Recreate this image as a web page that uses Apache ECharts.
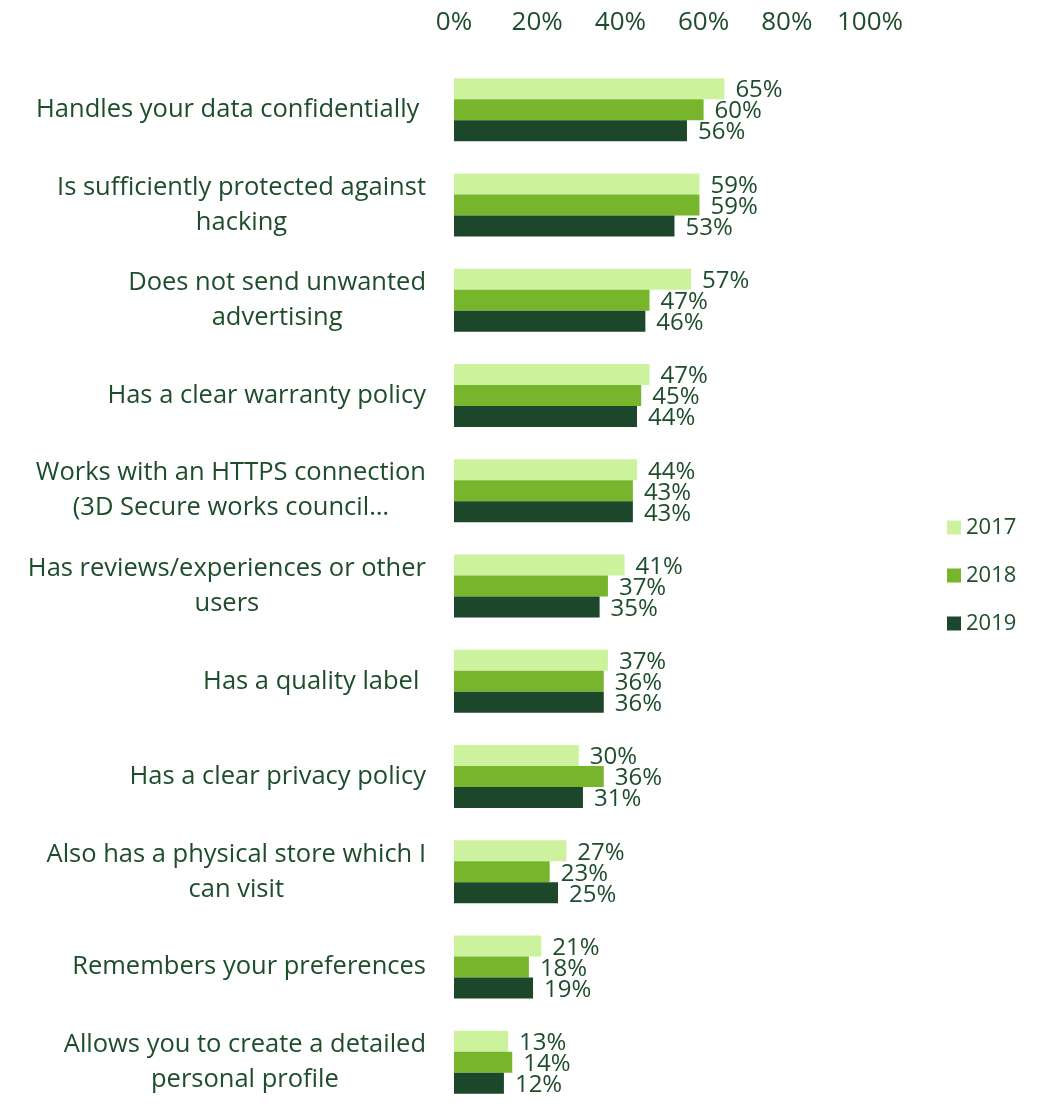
<!DOCTYPE html>
<html>
<head>
<meta charset="utf-8">
<title>Webshop requirements</title>
<script src="https://cdn.jsdelivr.net/npm/echarts@6/dist/echarts.min.js"></script>
<style>
  html, body { margin: 0; padding: 0; background: #fff; }
  #main { width: 1041px; height: 1110px; }
</style>
</head>
<body>
<div id="main"></div>
<script>
// categories, top to bottom
var categories = [
  'Handles your data confidentially ',
  'Is sufficiently protected against\nhacking',
  'Does not send unwanted\nadvertising',
  'Has a clear warranty policy',
  'Works with an HTTPS connection\n(3D Secure works council…',
  'Has reviews/experiences or other\nusers',
  'Has a quality label ',
  'Has a clear privacy policy',
  'Also has a physical store which I\ncan visit',
  'Remembers your preferences',
  'Allows you to create a detailed\npersonal profile'
];
var years = ['2017', '2018', '2019'];
var values2017 = [65, 59, 57, 47, 44, 41, 37, 30, 27, 21, 13];
var values2018 = [60, 59, 47, 45, 43, 37, 36, 36, 23, 18, 14];
var values2019 = [56, 53, 46, 44, 43, 35, 36, 31, 25, 19, 12];
var colors = ['#ccf29e', '#77b52d', '#1c472b'];

var textColor = '#1e4d2b';
var fontName = '"Open Sans", Lato, sans-serif';

var chart = echarts.init(document.getElementById('main'));

function barSeries(name, data, color) {
  return {
    name: name,
    type: 'bar',
    data: data,
    barWidth: 21,
    barGap: '0%',
    itemStyle: { color: color },
    label: {
      show: true,
      position: 'right',
      distance: 11,
      offset: [0, 2],
      formatter: '{c}%',
      color: textColor,
      fontSize: 24,
      fontFamily: fontName
    }
  };
}

var option = {
  animation: false,
  color: colors,
  grid: { left: 454, top: 62, width: 416, height: 1061 },
  xAxis: {
    type: 'value',
    position: 'top',
    min: 0,
    max: 100,
    interval: 20,
    axisLine: { show: false },
    axisTick: { show: false },
    splitLine: { show: false },
    axisLabel: {
      formatter: '{value}%',
      color: textColor,
      fontSize: 26,
      fontFamily: fontName,
      margin: 26
    }
  },
  yAxis: {
    type: 'category',
    inverse: true,
    data: categories,
    axisLine: { show: false },
    axisTick: { show: false },
    axisLabel: {
      margin: 28,
      formatter: function (v) {
        return v.split('\n').map(function (s) { return '{c|' + s + '}'; }).join('\n');
      },
      rich: {
        c: {
          align: 'center',
          color: textColor,
          fontSize: 25.5,
          lineHeight: 35,
          fontFamily: fontName
        }
      }
    }
  },
  legend: {
    orient: 'vertical',
    left: 942,
    top: 510,
    itemWidth: 14,
    itemHeight: 14,
    itemGap: 23,
    itemStyle: { borderWidth: 0 },
    icon: 'rect',
    data: years,
    textStyle: { color: textColor, fontSize: 22, lineHeight: 25, fontFamily: fontName }
  },
  series: [
    barSeries(years[0], values2017, colors[0]),
    barSeries(years[1], values2018, colors[1]),
    barSeries(years[2], values2019, colors[2])
  ]
};

chart.setOption(option);
</script>
</body>
</html>
